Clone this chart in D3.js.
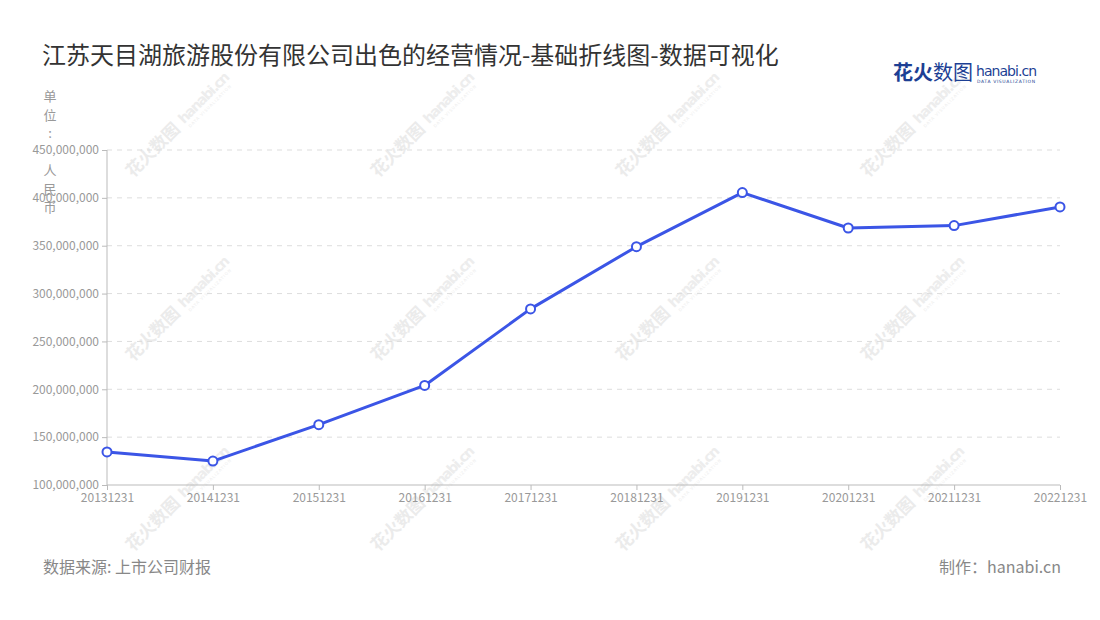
<!DOCTYPE html>
<html><head><meta charset="utf-8">
<script src="https://cdn.jsdelivr.net/npm/d3@7"></script>
<style>body{margin:0;background:#fff;font-family:"Noto Sans CJK SC","Noto Sans",sans-serif;}</style>
</head><body><svg id="c" width="1100" height="620"></svg>
<script>
const categories = ["20131231","20141231","20151231","20161231","20171231","20181231","20191231","20201231","20211231","20221231"];
const values = [134500000,125000000,163000000,204000000,284000000,349000000,405500000,368500000,371000000,390500000];
const yTicks = [100000000,150000000,200000000,250000000,300000000,350000000,400000000,450000000];
const yTitleChars = ["单","位",":"," ","人","民","币"];
const title = "江苏天目湖旅游股份有限公司出色的经营情况-基础折线图-数据可视化";
const source = "数据来源: 上市公司财报";
const maker = "制作：hanabi.cn";

const svg = d3.select("#c");
const font = '"Noto Sans CJK SC","Noto Sans",sans-serif';
const L=107,R=1060,T=150,B=485;

// watermarks
const wm = svg.append("g");
[178,362,552].forEach(wy=>{
  [133,378,623,868].forEach(wx=>{
    const g = wm.append("g").attr("transform",`translate(${wx},${wy}) rotate(-45)`);
    g.append("text").text("花火数图").attr("font-size",17).attr("font-weight","bold").attr("fill","#ebebeb").attr("font-family",font).attr("textLength",68);
    g.append("text").attr("x",74).attr("y",-2).text("hanabi.cn").attr("font-size",14).attr("font-weight","bold").attr("fill","#ededed").attr("font-family","DejaVu Sans").attr("textLength",66);
    g.append("text").attr("x",76).attr("y",5).text("DATA VISUALIZATION").attr("font-size",4).attr("fill","#ededed").attr("font-family","DejaVu Sans").attr("textLength",58);
  });
});

svg.append("text").attr("x",42).attr("y",64).text(title).attr("font-size",24).attr("fill","#333").attr("font-family",font);

// logo
svg.append("text").attr("x",893).attr("y",80).text("花火").attr("font-size",20).attr("font-weight","bold").attr("fill","#1d3f94").attr("font-family",font);
svg.append("text").attr("x",933).attr("y",80).text("数图").attr("font-size",20).attr("fill","#1d3f94").attr("font-family",font);
svg.append("text").attr("x",976).attr("y",76).text("hanabi.cn").attr("font-size",14).attr("fill","#1d3f94").attr("font-family","DejaVu Sans").attr("textLength",61);
svg.append("text").attr("x",977).attr("y",83).text("DATA VISUALIZATION").attr("font-size",4.5).attr("fill","#1d3f94").attr("font-family","DejaVu Sans").attr("textLength",58);

const x = d3.scalePoint().domain(categories).range([L,R]);
const y = d3.scaleLinear().domain([100000000,450000000]).range([B,T]);

// grid
svg.append("g").selectAll("line").data(yTicks.slice(1)).join("line")
  .attr("x1",L).attr("x2",R).attr("y1",d=>y(d)).attr("y2",d=>y(d))
  .attr("stroke","#ddd").attr("stroke-dasharray","5,5");

const fmt = d3.format(",");
const ya = svg.append("g").attr("transform",`translate(${L},0)`).call(d3.axisLeft(y).tickValues(yTicks).tickFormat(fmt).tickSize(5).tickPadding(3));
ya.select(".domain").attr("stroke","#bbb").attr("d",`M0,${T}V${B}`);
ya.selectAll(".tick line").attr("stroke","#bbb");
ya.selectAll("text").attr("fill","#999").attr("font-size",12).attr("font-family",font);

const xa = svg.append("g").attr("transform",`translate(0,${B})`).call(d3.axisBottom(x).tickSize(5).tickPadding(3));
xa.select(".domain").attr("stroke","#bbb").attr("d",`M${L},0H${R}`);
xa.selectAll(".tick line").attr("stroke","#bbb");
xa.selectAll("text").attr("fill","#999").attr("font-size",12).attr("font-family",font);

// y title
svg.append("g").selectAll("text").data(yTitleChars).join("text")
  .attr("x",50).attr("y",(d,i)=>101+i*18.5).attr("text-anchor","middle")
  .text(d=>d).attr("font-size",13).attr("fill","#999").attr("font-family",font);

const line = d3.line().x((d,i)=>x(categories[i])).y(d=>y(d));
svg.append("path").datum(values).attr("d",line).attr("fill","none").attr("stroke","#3b55e6").attr("stroke-width",3).attr("stroke-linejoin","round");
svg.append("g").selectAll("circle").data(values).join("circle")
  .attr("cx",(d,i)=>x(categories[i])).attr("cy",d=>y(d)).attr("r",4.5)
  .attr("fill","#fff").attr("stroke","#3b55e6").attr("stroke-width",2);

svg.append("text").attr("x",43).attr("y",573).text(source).attr("font-size",16).attr("fill","#888").attr("font-family",font);
svg.append("text").attr("x",1061).attr("y",573).attr("text-anchor","end").text(maker).attr("font-size",16).attr("fill","#888").attr("font-family",font);
</script></body></html>
